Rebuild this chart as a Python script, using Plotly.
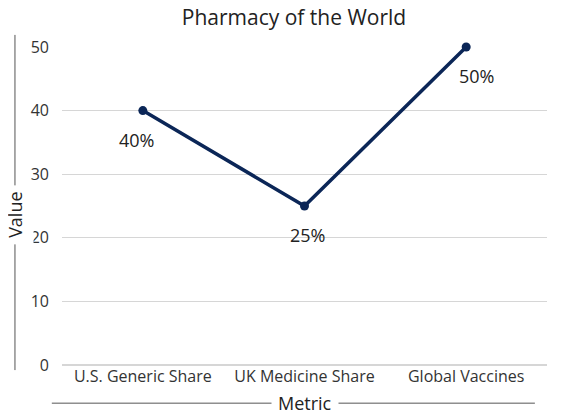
import plotly.graph_objects as go

metrics = ['U.S. Generic Share', 'UK Medicine Share', 'Global Vaccines']
values = [40, 25, 50]
labels = ['40%', '25%', '50%']
label_shift = [-6, 3, 10]

navy = '#0b2657'
font_name = 'Open Sans'

fig = go.Figure()
fig.add_trace(go.Scatter(x=metrics, y=values, mode='lines+markers',
                         line=dict(color=navy, width=3.5), marker=dict(color=navy, size=9),
                         cliponaxis=False, showlegend=False, hoverinfo='x+y'))

for m, v, t, s in zip(metrics, values, labels, label_shift):
    fig.add_annotation(x=m, y=v, text=t, showarrow=False, xshift=s, yshift=-29,
                       font=dict(size=18, color='#222', family=font_name))

# axis titles with a line behind them
fig.add_shape(type='line', xref='paper', yref='paper', x0=-0.097, x1=-0.097, y0=-0.016, y1=1.038,
              line=dict(color='#555', width=1))
fig.add_shape(type='line', xref='paper', yref='paper', x0=-0.021, x1=0.975, y0=-0.12, y1=-0.12,
              line=dict(color='#555', width=1))
fig.add_annotation(xref='paper', yref='paper', x=-0.097, y=0.472, text='Value', textangle=-90,
                   xanchor='center', yanchor='middle', showarrow=False, bgcolor='white', borderpad=6,
                   font=dict(size=18, color='#222', family=font_name))
fig.add_annotation(xref='paper', yref='paper', x=0.501, y=-0.12, text='Metric',
                   xanchor='center', yanchor='middle', showarrow=False, bgcolor='white', borderpad=6,
                   font=dict(size=18, color='#222', family=font_name))

fig.update_layout(width=572, height=420, paper_bgcolor='white', plot_bgcolor='white',
                  margin=dict(l=54, r=33, t=39, b=63),
                  font=dict(family=font_name, color='#333'),
                  title=dict(text='Pharmacy of the World', x=0.5, xanchor='center', y=0.978, yanchor='middle',
                             font=dict(size=21, color='#222', family=font_name)))
fig.update_xaxes(range=[-0.5, 2.5], showgrid=False, showline=False, ticks='',
                 tickfont=dict(size=16, color='#333'))
fig.update_yaxes(range=[0, 50], dtick=10, showgrid=True, gridcolor='#d6d6d6', gridwidth=1,
                 zeroline=True, zerolinecolor='#d6d6d6', showline=False, ticks='', ticklabelstandoff=12,
                 tickfont=dict(size=16, color='#333'))

fig.write_html("out.html")
